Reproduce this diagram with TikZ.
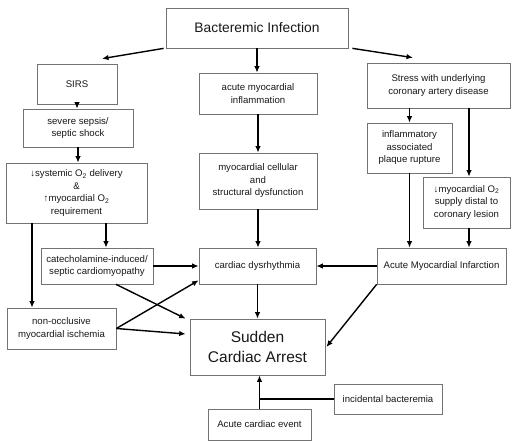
\documentclass[tikz,border=0pt]{standalone}
\usepackage{fontspec}
\setmainfont{Liberation Sans}
\usetikzlibrary{arrows.meta}
\newcommand{\dnarr}{{\bfseries ↓}}
\newcommand{\uparr}{{\bfseries ↑}}
\begin{document}
\begin{tikzpicture}[x=1pt,y=-1pt,
  box/.style={draw=black!55,line width=0.7pt,fill=white,inner sep=0pt,align=center,
    font=\fontsize{9.6}{12.5}\selectfont,text=black!90},
  arr/.style={line width=1.4pt,-{Latex[length=6.5pt,width=5.5pt]}},
  ln/.style={line width=1.4pt}]
\useasboundingbox (0,0) rectangle (512,442);
\node[box,minimum width=182pt,minimum height=40pt,font=\fontsize{13.8}{16}\selectfont] (bac) at (257,28) {Bacteremic Infection};
\node[box,minimum width=80pt,minimum height=40pt] (sirs) at (77,84) {SIRS};
\node[box,minimum width=110pt,minimum height=38pt] (sev) at (78,128) {severe sepsis/\\septic shock};
\node[box,minimum width=141pt,minimum height=60pt] (sys) at (76.5,193) {\dnarr systemic O\textsubscript{2} delivery\\\&\\\uparr myocardial O\textsubscript{2}\\requirement};
\node[box,minimum width=118pt,minimum height=41pt] (inf) at (258,93.5) {acute myocardial\\inflammation};
\node[box,minimum width=118pt,minimum height=56pt] (cell) at (258,181) {myocardial cellular\\and\\structural dysfunction};
\node[box,minimum width=143pt,minimum height=45pt] (stress) at (438.5,85.5) {Stress with underlying\\coronary artery disease};
\node[box,minimum width=85pt,minimum height=50pt] (plaque) at (409.5,148) {inflammatory\\associated\\plaque rupture};
\node[box,minimum width=87pt,minimum height=51pt] (supply) at (466.5,202.5) {\dnarr myocardial O\textsubscript{2}\\supply distal to\\coronary lesion};
\node[box,minimum width=112pt,minimum height=36pt] (cat) at (97,266) {catecholamine-induced/\\septic cardiomyopathy};
\node[box,minimum width=117pt,minimum height=36pt] (dys) at (257.5,266) {cardiac dysrhythmia};
\node[box,minimum width=129pt,minimum height=36pt] (mi) at (441.5,266) {Acute Myocardial Infarction};
\node[box,minimum width=109pt,minimum height=41pt] (non) at (61.5,328.5) {non-occlusive\\myocardial ischemia};
\node[box,minimum width=135pt,minimum height=56pt,font=\fontsize{15.5}{19.5}\selectfont] (sca) at (257.5,347) {Sudden\\Cardiac Arrest};
\node[box,minimum width=108pt,minimum height=30pt] (inc) at (388,399) {incidental bacteremia};
\node[box,minimum width=103pt,minimum height=31pt] (ace) at (259.5,424.5) {Acute cardiac event};
% arrows
\draw[arr] ([xshift=-2pt]bac.south west) -- ([xshift=25pt,yshift=5pt]sirs.north);
\draw[arr] (bac.south) -- (bac.south |- inf.north);
\draw[arr] ([xshift=4pt]bac.south east) -- ([xshift=-25.5pt,yshift=5pt]stress.north);
\draw[arr] (sirs.south) -- (sirs.south |- sev.north);
\draw[arr] (sev.south) -- (sev.south |- sys.north);
\draw[arr] (inf.south) -- (inf.south |- cell.north);
\draw[arr] (cell.south) -- (cell.south |- dys.north);
\draw[arr] (plaque.north |- stress.south) -- (plaque.north);
\draw[arr] ([xshift=2.5pt]supply.north |- stress.south) -- ([xshift=2.5pt]supply.north);
\draw[arr] (plaque.south) -- (plaque.south |- mi.north);
\draw[arr] ([xshift=2.5pt]supply.south) -- ([xshift=2.5pt]supply.south |- mi.north);
\draw[arr] ([xshift=9pt]cat.north |- sys.south) -- ([xshift=9pt]cat.north);
\draw[arr] ([xshift=-29.5pt]non.north |- sys.south) -- ([xshift=-29.5pt]non.north);
\draw[arr] (cat.east) -- (dys.west);
\draw[arr] ([xshift=19pt]cat.south) -- ([xshift=-4pt]sca.north west);
\draw[arr] (non.east) -- ([yshift=4pt]dys.south west);
\draw[arr] (non.east) -- ([xshift=-4pt,yshift=13pt]sca.west);
\draw[arr] (mi.west) -- (dys.east);
\draw[arr] (mi.south west) -- ([xshift=1pt]sca.east);
\draw[arr] (dys.south) -- (dys.south |- sca.north);
\draw[arr] (ace.north) -- (ace.north |- sca.south);
\draw[ln] (inc.west) -- (inc.west -| ace.north);
\end{tikzpicture}
\end{document}
